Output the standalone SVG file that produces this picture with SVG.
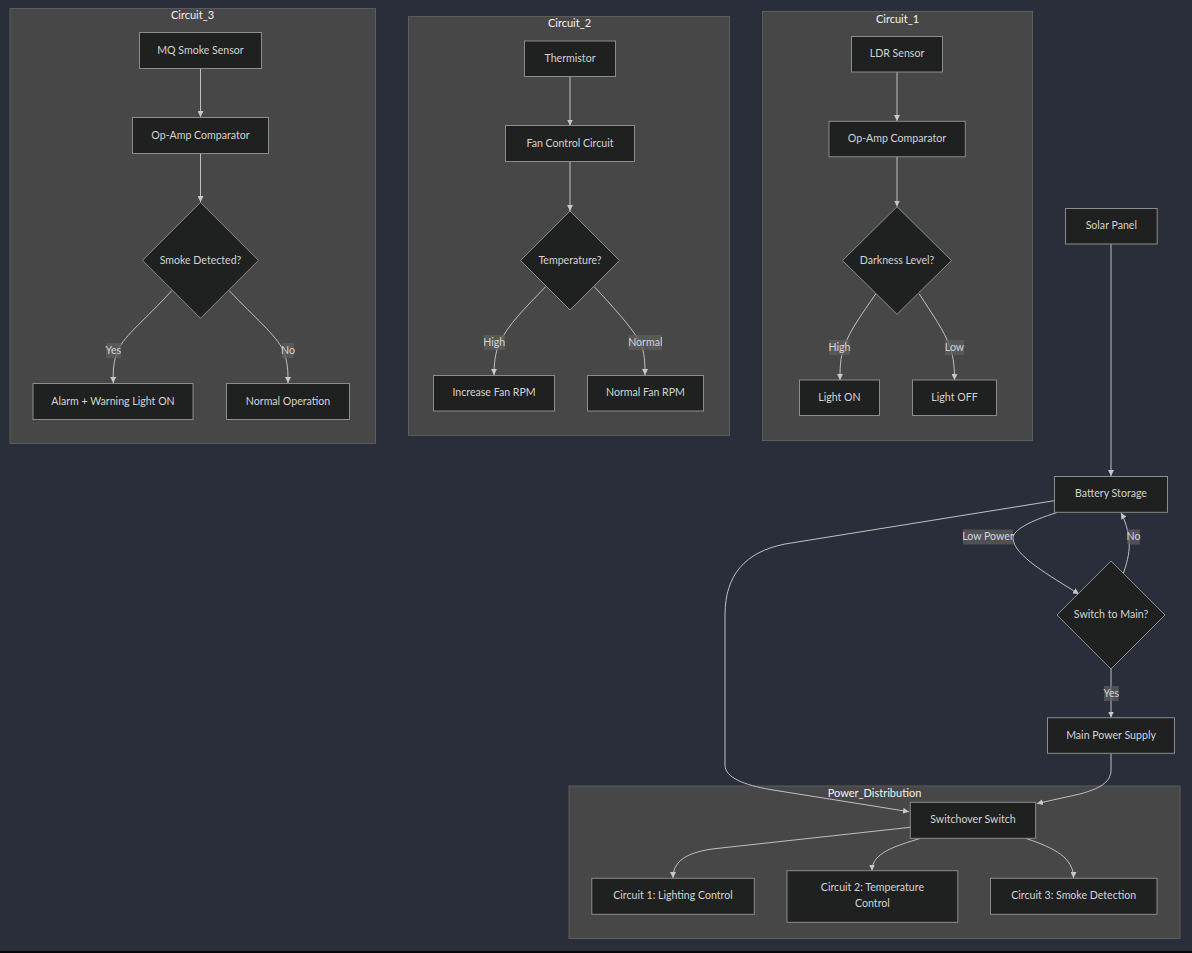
<svg xmlns="http://www.w3.org/2000/svg" width="1192" height="953" viewBox="0 0 1192 953">
  <defs>
    <marker id="arrow" viewBox="0 0 10 10" refX="10" refY="5" markerWidth="6" markerHeight="6" markerUnits="userSpaceOnUse" orient="auto">
      <path d="M0,0 L10,5 L0,10 z" fill="#c8c8c8"/>
    </marker>
    <style>
      .cluster { fill: #474747; stroke: #5c5c5c; stroke-width: 1; }
      .ctitle { fill: #f2f2f2; font-family: Lato, "Liberation Sans", sans-serif; font-size: 11px; text-anchor: middle; }
      .node { fill: #1f2020; stroke: #8c8c8c; stroke-width: 1; }
      .label { fill: #d4d4d4; font-family: Lato, "Liberation Sans", sans-serif; font-size: 10.6px; text-anchor: middle; dominant-baseline: central; transform: translate(0px, -1px); }
      .edge { fill: none; stroke: #c0c0c0; stroke-width: 1; marker-end: url(#arrow); }
      .elbg { fill: #5e5e5e; opacity: 0.75; }
    </style>
  </defs>

  <rect width="1192" height="953" fill="#2a2e3a"/>
  <rect x="0" y="951" width="1192" height="2" fill="#050505"/>

  <!-- subgraph frames -->
  <g id="Circuit_3">
    <rect class="cluster" x="10" y="8.5" width="365.5" height="435"/>
    <text class="ctitle" x="192.5" y="18.5">Circuit_3</text>
  </g>
  <g id="Circuit_2">
    <rect class="cluster" x="408.5" y="16.5" width="321" height="419"/>
    <text class="ctitle" x="569.5" y="27">Circuit_2</text>
  </g>
  <g id="Circuit_1">
    <rect class="cluster" x="762.5" y="11.5" width="270" height="429"/>
    <text class="ctitle" x="897.5" y="22.5">Circuit_1</text>
  </g>
  <g id="Power_Distribution">
    <rect class="cluster" x="569" y="786" width="611" height="152.5"/>
    <text class="ctitle" x="874.5" y="797">Power_Distribution</text>
  </g>

  <!-- connectors -->
  <g id="edges">
    <path class="edge" d="M200.5,68.5 L200.5,117"/>
    <path class="edge" d="M200.5,153.5 L200.5,202"/>
    <path class="edge" d="M171.7,290.7 C145,320 125,335 118,350 C113,362 113,372 113.3,383"/>
    <path class="edge" d="M229.3,290.7 C255,318 276,335 283,350 C288,362 288,372 288,383"/>

    <path class="edge" d="M570,76.5 L570,125.5"/>
    <path class="edge" d="M570,161.5 L570,211"/>
    <path class="edge" d="M545.7,286.7 C525,308 508,325 500,342 C495,352 494,365 494,375"/>
    <path class="edge" d="M594.3,286.7 C612,306 630,325 640,342 C645,352 645,365 645,375"/>

    <path class="edge" d="M897,72 L897,121"/>
    <path class="edge" d="M897,156.7 L897,206.5"/>
    <path class="edge" d="M875.7,294 C862,314 850,330 844,347 C840,358 840,370 840,380"/>
    <path class="edge" d="M919.3,294 C932,314 944,330 950,347 C954,358 954.5,370 954.5,380"/>

    <path class="edge" d="M1111,244 L1111,476"/>
    <path class="edge" d="M1057,512.5 C1030,521 1013,530 1013,538 C1013,555 1050,576 1079,594"/>
    <path class="edge" d="M1123.5,573 C1128,560 1130,550 1129,540 C1128,530 1125,520 1121,513"/>
    <path class="edge" d="M1111,669 L1111,717.5"/>
    <path class="edge" d="M1054.3,500.7 L785,544 C745,552 725,575 725,615 L725,765 C725,778 745,785 770,789.5 L909,811.7"/>
    <path class="edge" d="M1111,753.5 L1111,770 C1111,783 1098,789 1080,794 L1037,803.5"/>

    <path class="edge" d="M910.3,827.3 L712,849 C685,853 673,862 673,878"/>
    <path class="edge" d="M920.7,838.3 C895,846 872,853 872,870.5"/>
    <path class="edge" d="M1025.5,838.3 C1055,848 1073.5,858 1073.5,878"/>

    <!-- edge labels -->
    <rect class="elbg" x="106" y="343" width="15" height="15"/>
    <text class="label" x="113.3" y="350.5">Yes</text>
    <rect class="elbg" x="282" y="343" width="12" height="15"/>
    <text class="label" x="288" y="350.5">No</text>

    <rect class="elbg" x="484" y="335" width="21" height="15"/>
    <text class="label" x="494.3" y="342.5">High</text>
    <rect class="elbg" x="628.5" y="335" width="33.5" height="15"/>
    <text class="label" x="645.3" y="342.5">Normal</text>

    <rect class="elbg" x="829" y="340" width="21" height="15"/>
    <text class="label" x="839.5" y="347.5">High</text>
    <rect class="elbg" x="945" y="340" width="19" height="15"/>
    <text class="label" x="954.5" y="347.5">Low</text>

    <rect class="elbg" x="963" y="529.5" width="50" height="15"/>
    <text class="label" x="988" y="536.5">Low Power</text>
    <rect class="elbg" x="1127.3" y="529.5" width="12.5" height="15"/>
    <text class="label" x="1133.5" y="536.5">No</text>
    <rect class="elbg" x="1104" y="686" width="14.7" height="15"/>
    <text class="label" x="1111.3" y="693.5">Yes</text>
  </g>

  <!-- Circuit_3 nodes -->
  <g id="MQ_Smoke_Sensor">
    <rect class="node" x="139.5" y="32.5" width="122" height="36"/>
    <text class="label" x="200.5" y="50.5">MQ Smoke Sensor</text>
  </g>
  <g id="OpAmp3">
    <rect class="node" x="132.5" y="117.5" width="136" height="36"/>
    <text class="label" x="200.5" y="135.5">Op-Amp Comparator</text>
  </g>
  <g id="Smoke_Detected">
    <polygon class="node" points="200.5,202.3 258.5,260.3 200.5,318.3 142.5,260.3"/>
    <text class="label" x="200.5" y="260.5">Smoke Detected?</text>
  </g>
  <g id="Alarm">
    <rect class="node" x="33" y="383.5" width="160" height="36"/>
    <text class="label" x="113" y="401.5">Alarm + Warning Light ON</text>
  </g>
  <g id="Normal_Operation">
    <rect class="node" x="226.5" y="383.5" width="123" height="36"/>
    <text class="label" x="288" y="401.5">Normal Operation</text>
  </g>

  <!-- Circuit_2 nodes -->
  <g id="Thermistor">
    <rect class="node" x="524.5" y="41" width="91" height="35.5"/>
    <text class="label" x="570" y="58.7">Thermistor</text>
  </g>
  <g id="Fan_Control">
    <rect class="node" x="505.5" y="125.5" width="129" height="36"/>
    <text class="label" x="570" y="143.5">Fan Control Circuit</text>
  </g>
  <g id="Temperature">
    <polygon class="node" points="570,211 619.5,260.5 570,310 520.5,260.5"/>
    <text class="label" x="570" y="260.5">Temperature?</text>
  </g>
  <g id="Increase_Fan">
    <rect class="node" x="433.5" y="375.5" width="121" height="35.5"/>
    <text class="label" x="494" y="393.3">Increase Fan RPM</text>
  </g>
  <g id="Normal_Fan">
    <rect class="node" x="587.5" y="375.5" width="116" height="35.5"/>
    <text class="label" x="645.5" y="393.3">Normal Fan RPM</text>
  </g>

  <!-- Circuit_1 nodes -->
  <g id="LDR_Sensor">
    <rect class="node" x="851.5" y="36.5" width="91" height="35.5"/>
    <text class="label" x="897" y="54.3">LDR Sensor</text>
  </g>
  <g id="OpAmp1">
    <rect class="node" x="829" y="121.3" width="136.3" height="35.5"/>
    <text class="label" x="897" y="139">Op-Amp Comparator</text>
  </g>
  <g id="Darkness_Level">
    <polygon class="node" points="897,206.7 951.5,260.5 897,314.3 842.5,260.5"/>
    <text class="label" x="897" y="260.5">Darkness Level?</text>
  </g>
  <g id="Light_ON">
    <rect class="node" x="799.5" y="380" width="80" height="35.5"/>
    <text class="label" x="839.5" y="397.8">Light ON</text>
  </g>
  <g id="Light_OFF">
    <rect class="node" x="912.5" y="380" width="84" height="35.5"/>
    <text class="label" x="954.5" y="397.8">Light OFF</text>
  </g>

  <!-- power chain -->
  <g id="Solar_Panel">
    <rect class="node" x="1065.5" y="208.5" width="91.7" height="35.5"/>
    <text class="label" x="1111.3" y="226.3">Solar Panel</text>
  </g>
  <g id="Battery_Storage">
    <rect class="node" x="1054.5" y="476.5" width="113" height="35.8"/>
    <text class="label" x="1111" y="494.4">Battery Storage</text>
  </g>
  <g id="Switch_to_Main">
    <polygon class="node" points="1111,561 1165,615 1111,669 1057,615"/>
    <text class="label" x="1111" y="614.5">Switch to Main?</text>
  </g>
  <g id="Main_Power_Supply">
    <rect class="node" x="1047.5" y="717.7" width="127" height="35.6"/>
    <text class="label" x="1111" y="735.5">Main Power Supply</text>
  </g>

  <!-- Power_Distribution nodes -->
  <g id="Switchover_Switch">
    <rect class="node" x="910.3" y="802.3" width="125.3" height="36"/>
    <text class="label" x="973" y="820.3">Switchover Switch</text>
  </g>
  <g id="Circuit1_Lighting">
    <rect class="node" x="591.8" y="878.3" width="162.5" height="36"/>
    <text class="label" x="673" y="896.3">Circuit 1: Lighting Control</text>
  </g>
  <g id="Circuit2_Temperature">
    <rect class="node" x="787" y="870.7" width="170.8" height="51.6"/>
    <text class="label" x="872.4" y="888">Circuit 2: Temperature</text>
    <text class="label" x="872.4" y="904">Control</text>
  </g>
  <g id="Circuit3_Smoke">
    <rect class="node" x="990.5" y="878.3" width="166.5" height="36"/>
    <text class="label" x="1073.7" y="896.3">Circuit 3: Smoke Detection</text>
  </g>
</svg>
